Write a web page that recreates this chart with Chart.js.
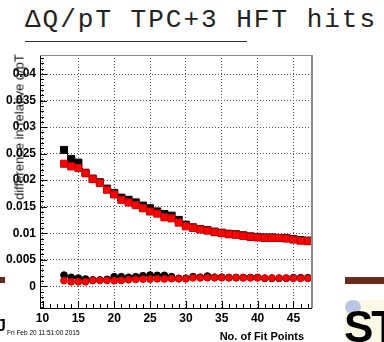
<!DOCTYPE html>
<html>
<head>
<meta charset="utf-8">
<script src="https://cdn.jsdelivr.net/npm/chart.js@4.4.1/dist/chart.umd.min.js"></script>
<style>
  html, body { margin: 0; padding: 0; background: #fff; }
  #wrap { position: relative; width: 384px; height: 342px; overflow: hidden; }
  canvas { position: absolute; left: 0; top: 0; }
  .txt { position: absolute; white-space: nowrap; color: #000; }
  #title { left: 25px; top: 7px; font: 26px/26px "Liberation Mono", monospace; letter-spacing: 2px; color: #222; }
  #rule { position: absolute; left: 25px; top: 41px; width: 222px; height: 1px; background: #333; }
  #ytitle { left: 19px; top: 127px; font: 13px/13px "Liberation Sans", sans-serif; color: #111; transform: translate(-50%, -50%) rotate(-90deg); }
  #xtitle { right: 80px; top: 330px; font: bold 11px/12px "Liberation Sans", sans-serif; }
  #stamp { left: 7px; top: 329px; font: 6.5px/8px "Liberation Sans", sans-serif; }
  #jmark { left: -3px; top: 318px; font: bold 16px/16px "Liberation Sans", sans-serif; }
  .bar { position: absolute; background: #6a2c1c; }
  #logo { position: absolute; left: 345px; top: 300px; width: 39px; height: 42px; background: #fbf8e6; overflow: hidden; }
  #logo i { position: absolute; left: 0; top: 0; width: 16px; height: 14px; border-radius: 50%; background: #b9c6e6; }
  #logo span { position: absolute; left: -1px; top: 5px; font: bold 44px/44px "Liberation Sans", sans-serif; color: #000; letter-spacing: -2px; }
</style>
</head>
<body>
<div id="wrap">
  <div class="txt" id="title">ΔQ/pT TPC+3 HFT hits</div>
  <div id="rule"></div>
  <canvas id="plot" width="384" height="342"></canvas>
  <div class="txt" id="ytitle">difference in relative q/pT</div>
  <div class="txt" id="xtitle">No. of Fit Points</div>
  <div class="txt" id="stamp">Fri Feb 20 11:51:00 2015</div>
  <div class="txt" id="jmark">J</div>
  <div class="bar" style="left:0;top:277px;width:5px;height:6px"></div>
  <div class="bar" style="left:345px;top:277px;width:39px;height:7px"></div>
  <div id="logo"><i></i><span>ST</span></div>
</div>
<script>
// number of fit points (x)
const fitPoints = [13, 14, 15, 16, 17, 18, 19, 20, 21, 22, 23, 24, 25, 26, 27, 28, 29, 30,
  31, 32, 33, 34, 35, 36, 37, 38, 39, 40, 41, 42, 43, 44, 45, 46, 47];

// upper curves (squares)
const upperBlack = [0.0257, 0.0240, 0.0233, 0.0214, 0.0203, 0.0196, 0.0184, 0.0176, 0.0167, 0.0163,
  0.0158, 0.0152, 0.0147, 0.0141, 0.0136, 0.0133, 0.0125, 0.0116, 0.0111, 0.0108,
  0.0106, 0.0103, 0.0101, 0.0099, 0.0098, 0.0096, 0.0094, 0.0093, 0.0092, 0.0092,
  0.0091, 0.0091, 0.0089, 0.0087, 0.0086];
const upperRed = [0.0231, 0.0226, 0.0223, 0.0213, 0.0202, 0.0195, 0.0182, 0.0173, 0.0163, 0.0158,
  0.0153, 0.0147, 0.0141, 0.0137, 0.0130, 0.0128, 0.0120, 0.0113, 0.0110, 0.0107,
  0.0105, 0.0102, 0.0100, 0.0098, 0.0097, 0.0095, 0.0093, 0.0092, 0.0091, 0.0091,
  0.0091, 0.0090, 0.0088, 0.0086, 0.0085];

// lower curves (circles)
const lowerBlack = [0.0021, 0.00168, 0.00155, 0.00136, 0.0012, 0.0012, 0.0013, 0.00179, 0.00179, 0.00168,
  0.00179, 0.00198, 0.00211, 0.00205, 0.00205, 0.00179, 0.00149, 0.0015, 0.0018, 0.0017,
  0.00192, 0.0017, 0.0017, 0.00165, 0.00165, 0.00165, 0.00165, 0.00165, 0.0015, 0.0015,
  0.0015, 0.0015, 0.0016, 0.0016, 0.0016];
const lowerRed = [0.00107, 0.00085, 0.00085, 0.00085, 0.0011, 0.0011, 0.0011, 0.00105, 0.0011, 0.00122,
  0.0013, 0.00135, 0.00135, 0.0014, 0.00138, 0.00142, 0.0014, 0.0014, 0.00158, 0.00158,
  0.0016, 0.0016, 0.0016, 0.0016, 0.0016, 0.00158, 0.00158, 0.00158, 0.00155, 0.00155,
  0.00155, 0.00155, 0.0015, 0.0015, 0.0015];

const xTicks = [10, 15, 20, 25, 30, 35, 40, 45];
const yTicks = [0, 0.005, 0.01, 0.015, 0.02, 0.025, 0.03, 0.035, 0.04];

const toPoints = (vals) => fitPoints.map((x, i) => ({ x: x, y: vals[i] }));

// ROOT-like frame: minor tick marks plus top/right edges
const rootFrame = {
  id: 'rootFrame',
  afterDatasetsDraw(chart) {
    const { ctx, chartArea: a, scales } = chart;
    ctx.save();
    ctx.strokeStyle = '#000';
    ctx.lineWidth = 1;
    ctx.beginPath();
    for (let v = 10; v <= 47; v++) {
      const px = Math.round(scales.x.getPixelForValue(v)) + 0.5;
      const len = v % 5 === 0 ? 7 : 4;
      ctx.moveTo(px, a.bottom);
      ctx.lineTo(px, a.bottom - len);
    }
    for (let k = -4; k <= 43; k++) {
      const py = Math.round(scales.y.getPixelForValue(k / 1000)) + 0.5;
      const len = k % 5 === 0 ? 7 : 4;
      ctx.moveTo(a.left, py);
      ctx.lineTo(a.left + len, py);
    }
    ctx.stroke();

    ctx.strokeStyle = '#8a8a8a';
    ctx.beginPath();
    ctx.moveTo(a.left, a.top + 0.5);
    ctx.lineTo(a.right + 1, a.top + 0.5);
    ctx.stroke();
    ctx.lineWidth = 2;
    ctx.beginPath();
    ctx.moveTo(a.right + 1, a.top);
    ctx.lineTo(a.right + 1, a.bottom);
    ctx.stroke();
    ctx.restore();
  }
};

const tickFont = { family: 'Liberation Sans', size: 12, weight: 'bold' };

new Chart(document.getElementById('plot'), {
  type: 'scatter',
  data: {
    datasets: [
      {
        label: 'red upper',
        data: toPoints(upperRed),
        pointStyle: 'rect',
        pointRadius: 5,
        backgroundColor: '#ff0000',
        borderColor: '#c80000',
        borderWidth: 1,
      },
      {
        label: 'red lower',
        data: toPoints(lowerRed),
        pointStyle: 'circle',
        pointRadius: 3.4,
        backgroundColor: '#ff0000',
        borderColor: '#d00000',
        borderWidth: 1,
      },
      {
        label: 'black upper',
        data: toPoints(upperBlack),
        showLine: true,
        pointStyle: 'rect',
        pointRadius: 5,
        backgroundColor: '#000',
        borderColor: '#000',
        borderWidth: 1,
      },
      {
        label: 'black lower',
        data: toPoints(lowerBlack),
        showLine: true,
        pointStyle: 'circle',
        pointRadius: 3.4,
        backgroundColor: '#000',
        borderColor: '#000',
        borderWidth: 1,
      },
    ],
  },
  options: {
    responsive: false,
    animation: false,
    devicePixelRatio: 1,
    layout: { padding: { top: 55, right: 73, bottom: 0, left: 0 } },
    plugins: { legend: { display: false }, tooltip: { enabled: false } },
    scales: {
      x: {
        type: 'linear',
        min: 9.65,
        max: 47.45,
        afterBuildTicks: (s) => { s.ticks = xTicks.map((v) => ({ value: v })); },
        afterFit: (s) => { s.height = 34; },
        grid: { color: '#555', lineWidth: 1, drawTicks: false },
        border: { display: true, color: '#000', width: 1, dash: [1, 2] },
        ticks: { padding: 3, color: '#000', font: tickFont, maxRotation: 0, autoSkip: false, callback: (v) => String(v) },
      },
      y: {
        type: 'linear',
        min: -0.0041,
        max: 0.0436,
        afterBuildTicks: (s) => { s.ticks = yTicks.map((v) => ({ value: v })); },
        afterFit: (s) => { s.width = 40; },
        grid: { color: '#555', lineWidth: 1, drawTicks: false },
        border: { display: true, color: '#000', width: 1, dash: [1, 2] },
        ticks: { padding: 4, color: '#000', font: tickFont, autoSkip: false, callback: (v) => String(v) },
      },
    },
  },
  plugins: [rootFrame],
});
</script>
</body>
</html>
